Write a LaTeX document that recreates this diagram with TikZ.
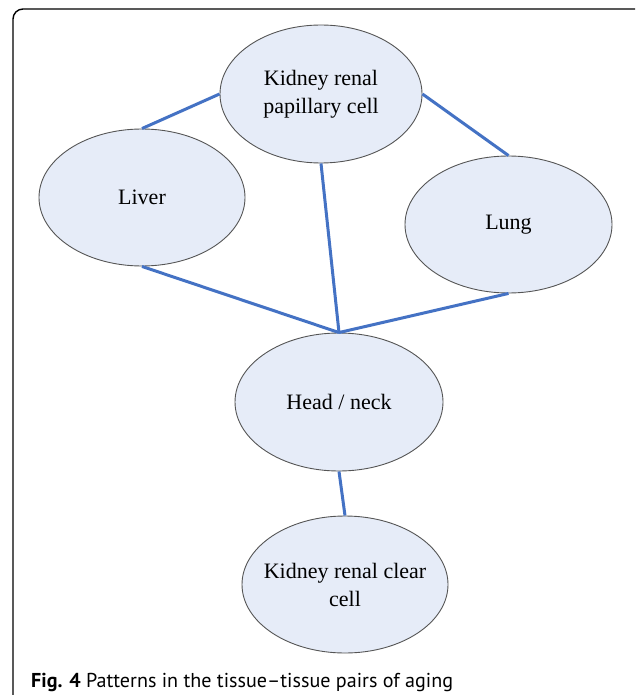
\documentclass[tikz,border=0pt]{standalone}
\usepackage{fontspec}
\setmainfont{Liberation Serif}
\newfontfamily\capfont{PT Sans}
\usetikzlibrary{shapes.geometric}
\definecolor{ellfill}{RGB}{230,236,248}
\definecolor{ellborder}{RGB}{85,85,85}
\definecolor{edgeblue}{RGB}{68,114,196}
\tikzset{
  tissue/.style={ellipse, draw=ellborder, line width=0.9pt, fill=ellfill,
    minimum width=206pt, minimum height=137pt, inner sep=0pt, inner xsep=-15pt, align=center,
    font=\fontsize{22}{28}\selectfont},
  link/.style={draw=edgeblue, line width=3pt},
  frame/.style={draw=black, line width=1.4pt, rounded corners=10pt}
}
\begin{document}
\begin{tikzpicture}[x=1pt,y=-1pt]
\useasboundingbox (0,0) rectangle (635,695);
\begin{scope}
\clip (0,0) rectangle (635,695);
\draw[frame] (13,9) rectangle (648,712);
\end{scope}
\node[tissue, minimum width=202pt, minimum height=138pt] (krpc) at (321,94) {Kidney renal\\papillary cell};
\node[tissue] (liver) at (142,197.5) {Liver};
\node[tissue, minimum width=207pt] (lung) at (508.5,224.5) {Lung};
\node[tissue, minimum width=208pt, minimum height=138pt] (hn) at (339,402) {Head / neck};
\node[tissue] (krcc) at (345,584.5) {Kidney renal clear\\cell};
\draw[link] (krpc.west) -- (liver.north);
\draw[link] (krpc.east) -- (lung.north);
\draw[link] (krpc.south) -- (hn.north);
\draw[link] (liver.south) -- (hn.north);
\draw[link] (lung.south) -- (hn.north);
\draw[link] (hn.south) -- (krcc.north);
\node[anchor=base west, inner sep=0pt, font=\capfont\fontsize{20.1}{24}\selectfont] (cap) at (31,687)
  {\textbf{Fig. 4} Patterns in the tissue–tissue pairs of aging};
\end{tikzpicture}
\end{document}
